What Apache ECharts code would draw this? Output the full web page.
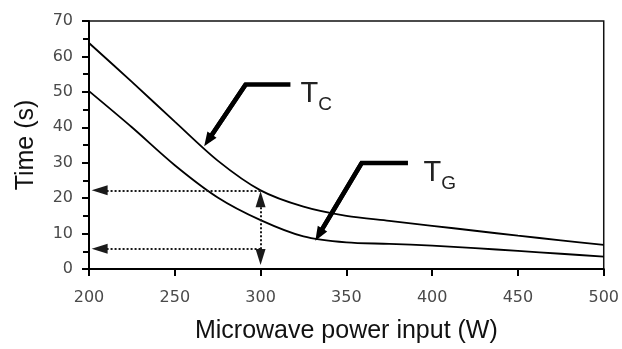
<!DOCTYPE html>
<html>
<head>
<meta charset="utf-8">
<script src="https://cdn.jsdelivr.net/npm/echarts@6/dist/echarts.min.js"></script>
<style>
  html, body { margin: 0; padding: 0; background: #fff; }
  #chart { width: 622px; height: 349px; }
</style>
</head>
<body>
<div id="chart"></div>
<script>
// microwave power (W) vs time (s)
const powerW = [200, 225, 250, 275, 300, 325, 350, 375, 400, 425, 450, 475, 500]
const timeTC = [63.8, 52.8, 41.6, 30.6, 22.2, 17.6, 15.0, 13.6, 12.2, 10.8, 9.4, 8.1, 6.8]
const timeTG = [50.2, 40.0, 29.3, 20.2, 13.8, 9.2, 7.5, 7.1, 6.6, 5.9, 5.1, 4.3, 3.5]

// reading guides at 300 W (arrowheads sit just inside the ends)
const guidePower = 300
const guideTimes = [22.2, 5.7]
const guideArrowX = 206.2
const guideArrowY = [19.7, 3.4]

// callout arrows (data coords): elbow start, elbow, arrowhead centre
const calloutTC = [[317.4, 52.1], [291.3, 52.1], [269.4, 36.3]]
const calloutTG = [[385.9, 29.9], [358.9, 29.9], [334.0, 9.7]]
const labelTC = [332.4, 48.6]
const labelTG = [404.4, 26.3]

const pairs = (xs, ys) => xs.map((x, i) => [x, ys[i]])

const chart = echarts.init(document.getElementById('chart'))

const calloutSeries = (pts, labelPos, sub) => ({
  type: 'line',
  data: pts,
  symbol: 'none',
  silent: true,
  lineStyle: { color: '#000', width: 4.5, join: 'miter' },
  z: 5,
  markLine: {
    silent: true,
    animation: false,
    label: { show: false },
    lineStyle: { color: '#000', width: 4.5, type: 'solid' },
    symbolSize: [11, 14],
    data: [[
      { coord: pts[1], symbol: 'none' },
      { coord: pts[2], symbol: 'triangle' },
    ]],
  },
  markPoint: {
    silent: true,
    symbol: 'rect',
    symbolSize: 1,
    itemStyle: { color: 'transparent' },
    label: {
      show: true,
      position: 'inside',
      formatter: '{t|T}{s|' + sub + '}',
      rich: {
        t: { fontSize: 29, color: '#222', fontFamily: 'Liberation Sans', verticalAlign: 'bottom', padding: [0, 0, 5, 0] },
        s: { fontSize: 19, color: '#222', fontFamily: 'Liberation Sans', verticalAlign: 'bottom' },
      },
    },
    data: [{ coord: labelPos }],
  },
})

const tickFont = { fontFamily: 'DejaVu Sans', fontSize: 16, color: '#4a4a4a' }

const option = {
  animation: false,
  backgroundColor: '#fff',
  grid: {
    left: 89,
    right: 15,
    top: 21,
    bottom: 78,
    show: true,
    borderColor: '#111',
    borderWidth: 1.5,
  },
  xAxis: {
    type: 'value',
    min: 200,
    max: 500,
    interval: 50,
    name: 'Microwave power input (W)',
    nameLocation: 'middle',
    nameGap: 50,
    nameTextStyle: { fontFamily: 'Liberation Sans', fontSize: 25, color: '#111' },
    axisLine: { show: true, lineStyle: { color: '#000', width: 2 } },
    axisTick: { show: true, length: 7, lineStyle: { color: '#000', width: 2 } },
    axisLabel: { ...tickFont, margin: 21 },
    splitLine: { show: false },
  },
  yAxis: {
    type: 'value',
    min: 0,
    max: 70,
    interval: 10,
    name: 'Time (s)',
    nameLocation: 'middle',
    nameGap: 50,
    nameTextStyle: { fontFamily: 'Liberation Sans', fontSize: 25, color: '#111' },
    axisLine: { show: true, lineStyle: { color: '#000', width: 2 } },
    axisTick: { show: true, length: 7, lineStyle: { color: '#000', width: 2 } },
    minorTick: { show: true, splitNumber: 2, length: 6, lineStyle: { color: '#000', width: 2 } },
    axisLabel: { ...tickFont, margin: 16 },
    splitLine: { show: false },
  },
  series: [
    {
      name: 'TC',
      type: 'line',
      data: pairs(powerW, timeTC),
      smooth: 0.3,
      symbol: 'none',
      lineStyle: { color: '#000', width: 1.8 },
      z: 3,
      markLine: {
        silent: true,
        animation: false,
        label: { show: false },
        lineStyle: { color: '#1a1a1a', width: 2, type: 'dotted' },
        itemStyle: { color: '#000' },
        symbolSize: [10, 16],
        data: [
          [{ coord: [guidePower, guideTimes[0]], symbol: 'none' }, { coord: [guideArrowX, guideTimes[0]], symbol: 'triangle' }],
          [{ coord: [guidePower, guideTimes[1]], symbol: 'none' }, { coord: [guideArrowX, guideTimes[1]], symbol: 'triangle' }],
          [{ coord: [guidePower, guideArrowY[0]], symbol: 'triangle' }, { coord: [guidePower, guideArrowY[1]], symbol: 'triangle' }],
        ],
      },
    },
    {
      name: 'TG',
      type: 'line',
      data: pairs(powerW, timeTG),
      smooth: 0.3,
      symbol: 'none',
      lineStyle: { color: '#000', width: 1.8 },
      z: 3,
    },
    calloutSeries(calloutTC, labelTC, 'C'),
    calloutSeries(calloutTG, labelTG, 'G'),
  ],
}

chart.setOption(option)
</script>
</body>
</html>
